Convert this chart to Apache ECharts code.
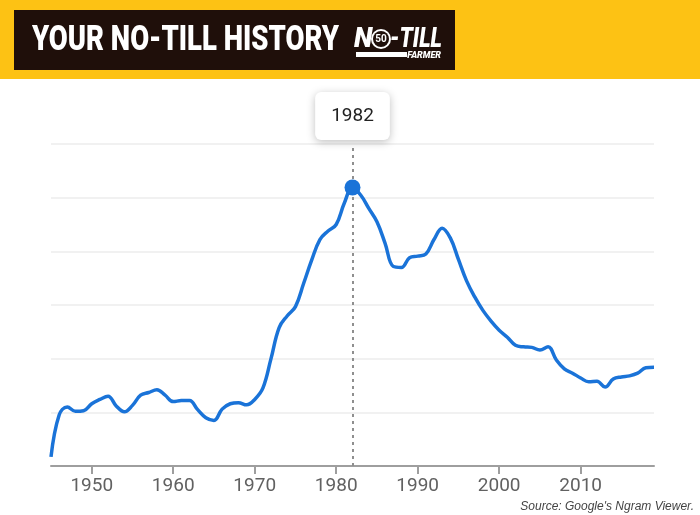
<!DOCTYPE html>
<html>
<head>
<meta charset="utf-8">
<title>Your No-Till History</title>
<script src="https://cdn.jsdelivr.net/npm/echarts@6/dist/echarts.min.js"></script>
<style>
  html, body { margin: 0; padding: 0; background: #fff; }
  #chart { width: 700px; height: 515px; }
</style>
</head>
<body>
<div id="chart"></div>
<script>
// years on the x axis
var years = [];
for (var y = 1945; y <= 2019; y++) years.push(y);

// relative frequency of "no-till" (one unit = one grid line)
var usage = [
  0.17, 0.95, 1.10, 1.02, 1.03, 1.16, 1.24, 1.30, 1.12, 1.01,
  1.13, 1.32, 1.37, 1.42, 1.32, 1.20, 1.22, 1.22, 1.05, 0.90,
  0.85, 1.06, 1.16, 1.18, 1.14, 1.24, 1.45, 2.00, 2.58, 2.80,
  2.97, 3.40, 3.84, 4.22, 4.38, 4.50, 4.90, 5.19, 5.05, 4.80,
  4.55, 4.15, 3.72, 3.70, 3.88, 3.91, 3.95, 4.22, 4.43, 4.25,
  3.85, 3.45, 3.15, 2.90, 2.70, 2.53, 2.40, 2.25, 2.22, 2.21,
  2.16, 2.22, 1.98, 1.81, 1.73, 1.64, 1.57, 1.58, 1.47, 1.62,
  1.66, 1.68, 1.73, 1.83, 1.84
];

var tickYears = [1950, 1960, 1970, 1980, 1990, 2000, 2010];
var peakYear = 1982;
var peakValue = 5.19;

var titleText = 'YOUR NO-TILL HISTORY';
var sourceText = "Source: Google's Ngram Viewer.";

// fit the condensed title into its box
function fitScale(font, text, width) {
  var ctx = document.createElement('canvas').getContext('2d');
  ctx.font = font;
  return width / ctx.measureText(text).width;
}
var titleFont = '900 35px Roboto';
var titleScale = fitScale(titleFont, titleText, 307);
var logoFont = 'italic 900 27px Roboto';
var logoScale = fitScale(logoFont, '-TILL', 52);

var seriesData = years.map(function (yr, i) { return [yr, usage[i]]; });

var myChart = echarts.init(document.getElementById('chart'));
myChart.setOption({
  animation: false,
  backgroundColor: '#fff',
  grid: { left: 51, right: 46, top: 144, bottom: 49 },
  xAxis: {
    type: 'value',
    min: 1945,
    max: 2019,
    axisLine: { lineStyle: { color: '#9e9e9e', width: 2 } },
    axisTick: { show: true, length: 8, inside: false, customValues: tickYears, lineStyle: { color: '#9e9e9e', width: 2 } },
    axisLabel: {
      customValues: tickYears,
      formatter: function (v) { return String(v); },
      margin: 11,
      color: '#616161',
      fontFamily: 'Roboto',
      fontSize: 19
    },
    splitLine: { show: false }
  },
  yAxis: {
    type: 'value',
    min: 0,
    max: 6,
    interval: 1,
    axisLine: { show: false },
    axisTick: { show: false },
    axisLabel: { show: false },
    splitLine: { lineStyle: { color: '#ededed', width: 1.5 } }
  },
  series: [
    {
      type: 'line',
      data: seriesData,
      smooth: 0.4,
      showSymbol: false,
      lineStyle: { color: '#1a73d8', width: 3.5 },
      markLine: {
        silent: true,
        symbol: 'none',
        lineStyle: { color: '#8f8f8f', width: 2, type: [3, 4] },
        label: {
          show: true,
          position: 'end',
          distance: 4,
          formatter: String(peakYear),
          color: '#222',
          fontFamily: 'Roboto',
          fontSize: 19,
          backgroundColor: '#fff',
          borderRadius: 6,
          padding: [15, 16, 14, 16],
          shadowColor: 'rgba(0,0,0,0.25)',
          shadowBlur: 8,
          shadowOffsetY: 2
        },
        data: [[{ coord: [peakYear, 0] }, { coord: [peakYear, 6] }]]
      },
      markPoint: {
        silent: true,
        symbol: 'circle',
        symbolSize: 16,
        itemStyle: { color: '#1a73d8' },
        label: { show: false },
        data: [{ coord: [peakYear, peakValue] }]
      }
    }
  ],
  graphic: [
    { type: 'rect', left: 0, top: 0, shape: { width: 700, height: 79 }, style: { fill: '#fdc214' } },
    { type: 'rect', left: 14, top: 10, shape: { width: 441, height: 60 }, style: { fill: '#1f0f0a' } },
    {
      type: 'text', x: 32, y: 41, scaleX: titleScale,
      style: { text: titleText, font: titleFont, fill: '#fff', textVerticalAlign: 'middle' }
    },
    // logo
    {
      type: 'text', x: 354, y: 40,
      style: { text: 'N', font: 'italic 900 27px Roboto', fill: '#fff', textVerticalAlign: 'middle' }
    },
    { type: 'circle', shape: { cx: 381, cy: 39, r: 10 }, style: { fill: '#fff' } },
    { type: 'circle', shape: { cx: 381, cy: 39, r: 8 }, style: { fill: '#1f0f0a' } },
    {
      type: 'text', x: 381, y: 39,
      style: { text: '50', font: 'bold 10px Roboto', fill: '#fff', textAlign: 'center', textVerticalAlign: 'middle' }
    },
    {
      type: 'text', x: 390, y: 40, scaleX: logoScale,
      style: { text: '-TILL', font: logoFont, fill: '#fff', textVerticalAlign: 'middle' }
    },
    { type: 'rect', left: 356, top: 52, shape: { width: 51, height: 5 }, style: { fill: '#fff' } },
    {
      type: 'text', x: 441, y: 56,
      style: { text: 'FARMER', font: 'italic 900 9px Roboto', fill: '#fff', textAlign: 'right', textVerticalAlign: 'middle' }
    },
    {
      type: 'text', right: 6, top: 501,
      style: { text: sourceText, font: 'italic 12px "Liberation Sans"', fill: '#444' }
    }
  ]
});
</script>
</body>
</html>
